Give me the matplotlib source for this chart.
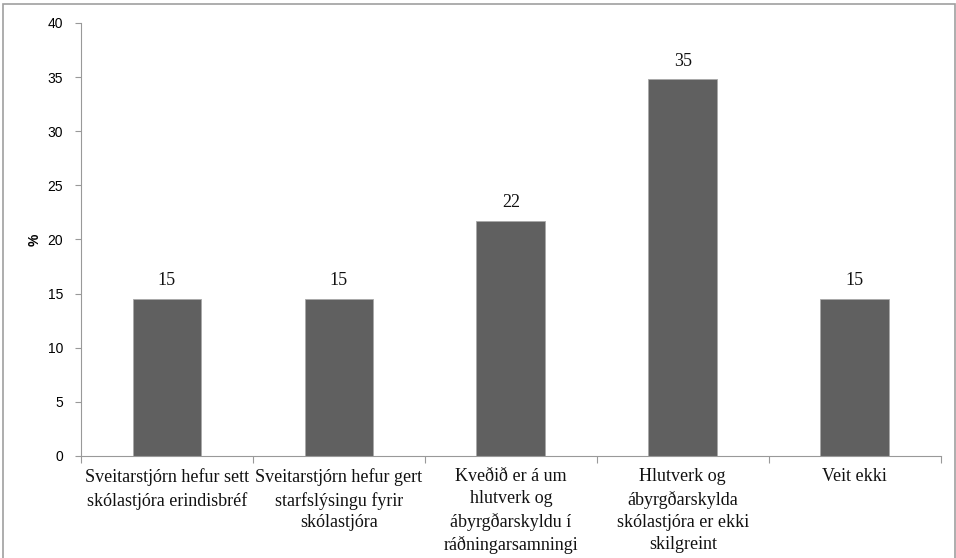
import numpy as np
import matplotlib
matplotlib.use('Agg')
import matplotlib.pyplot as plt

categories = ['Sveitarstjórn hefur sett\nskólastjóra erindisbréf',
              'Sveitarstjórn hefur gert\nstarfslýsingu fyrir\nskólastjóra',
              'Kveðið er á um\nhlutverk og\nábyrgðarskyldu í\nráðningarsamningi',
              'Hlutverk og\nábyrgðarskylda\nskólastjóra er ekki\nskilgreint',
              'Veit ekki']
values = [14.5, 14.5, 21.7, 34.8, 14.5]
value_labels = ['15', '15', '22', '35', '15']
yticks = [0, 5, 10, 15, 20, 25, 30, 35, 40]

fig = plt.figure(figsize=(9.56, 5.58), dpi=100)
# outer frame around the whole chart
fig.patches.append(plt.Rectangle((0.003, -0.01), 0.996, 1.003, transform=fig.transFigure,
                                 fill=False, edgecolor='#a0a0a0', linewidth=1.2))
ax = fig.add_axes([0.0847, 0.1828, 0.8993, 0.776])

x = np.arange(len(categories))
bars = ax.bar(x, values, width=0.4, color='#606060', edgecolor='#a8a8a8', linewidth=0.6)
for xi, v, lab in zip(x, values, value_labels):
    ax.annotate(lab, (xi, v), xytext=(0, 7), textcoords='offset points',
                ha='center', va='bottom', fontsize=13, family='Liberation Serif', color='#111111')

ax.set_xlim(-0.5, len(categories) - 0.5)
ax.set_ylim(0, 40)
ax.set_yticks(yticks)
ax.set_yticklabels([str(t) for t in yticks], fontsize=10, family='Liberation Sans')
ax.tick_params(axis='y', length=4, color='#999999', pad=9)

ax.set_xticks(np.arange(-0.5, len(categories)))
ax.set_xticklabels([])
ax.tick_params(axis='x', which='major', length=5, color='#999999')
ax.set_xticks(x, minor=True)
ax.set_xticklabels(categories, minor=True, fontsize=13, family='Liberation Serif',
                   linespacing=1.38, va='top', color='#111111')
ax.tick_params(axis='x', which='minor', length=0, pad=9)

ax.spines['top'].set_visible(False)
ax.spines['right'].set_visible(False)
ax.spines['left'].set_color('#999999')
ax.spines['bottom'].set_color('#999999')

ax.set_ylabel('%', fontsize=10, fontweight='bold', family='Liberation Sans', labelpad=4)

fig.savefig('out.png', dpi=100)
